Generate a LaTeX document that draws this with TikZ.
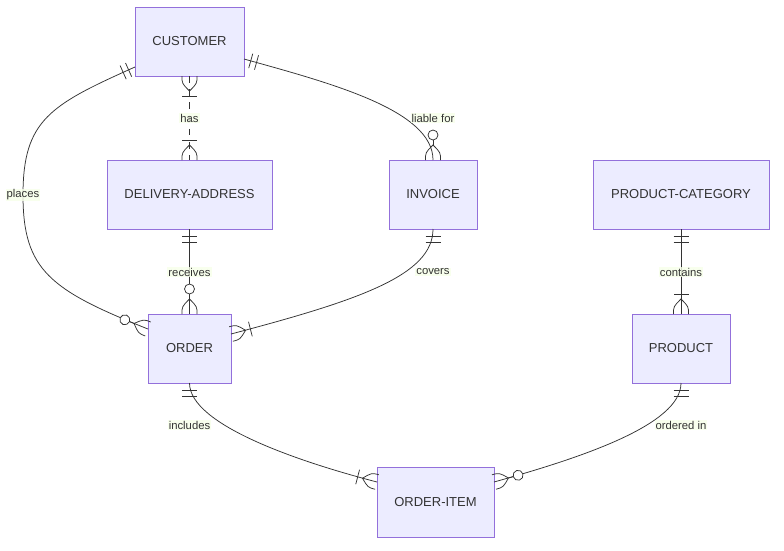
\documentclass[tikz,border=0pt]{standalone}
\usepackage{fontspec}
\setmainfont{Liberation Sans}
\usetikzlibrary{calc}
\definecolor{entfill}{HTML}{ECECFF}
\definecolor{entborder}{HTML}{9370DB}
\definecolor{lnc}{HTML}{333333}
\definecolor{txt}{HTML}{333333}
\definecolor{lblbg}{RGB}{246,255,232}
\tikzset{
  ent/.style={draw=entborder, fill=entfill, line width=0.8pt, minimum width=#1,
    minimum height=69pt, inner sep=0pt, outer sep=0pt, text=txt,
    font=\fontsize{13}{15}\selectfont},
  rel/.style={draw=lnc, line width=0.75pt},
  mk/.style={draw=lnc, line width=0.75pt},
  lbl/.style={fill=lblbg, fill opacity=0.8, text opacity=1, inner sep=1pt,
    text=txt, font=\fontsize{11.3}{13}\selectfont},
  oneone/.pic={\path[mk] (7,-7.5) -- (7,7.5) (13,-7.5) -- (13,7.5);},
  crowmany/.pic={\path[mk] (0,-7.5) .. controls (7.5,-7.5) .. (15,0) .. controls (7.5,7.5) .. (0,7.5);
    \path[mk] (20,-7.5) -- (20,7.5);},
  crowzero/.pic={\path[mk] (0,-7.5) .. controls (7.5,-7.5) .. (15,0) .. controls (7.5,7.5) .. (0,7.5);
    \path[mk] (15,0) -- (20,0);
    \path[mk, fill=white] (25,0) circle (5pt);},
}
\begin{document}
\begin{tikzpicture}[x=1pt, y=1pt]
\useasboundingbox (0,0) rectangle (784,-550);
% entities
\node[ent=109pt] (customer) at (189.5,-41.5) {CUSTOMER};
\node[ent=165pt] (delivery) at (189.5,-194.5) {DELIVERY-ADDRESS};
\node[ent=88pt] (invoice) at (433,-194.5) {INVOICE};
\node[ent=176pt] (prodcat) at (681,-194.5) {PRODUCT-CATEGORY};
\node[ent=83pt] (order) at (189.5,-348.5) {ORDER};
\node[ent=98pt] (product) at (681,-348.5) {PRODUCT};
\node[ent=117pt, minimum height=70pt] (orderitem) at (435.5,-502) {ORDER-ITEM};
% end points
\coordinate (cw) at ([yshift=-25.5pt]customer.west);
\coordinate (ce) at ([yshift=-17.5pt]customer.east);
\coordinate (ow) at ([yshift=19.5pt]order.west);
\coordinate (oe) at ([yshift=14.5pt]order.east);
\coordinate (oiw) at ([yshift=20pt]orderitem.west);
\coordinate (oie) at ([yshift=20pt]orderitem.east);
% relationships
\draw[rel] (cw) .. controls (50,-105) and (23,-120) .. (23,-195)
  .. controls (23,-270) and (50,-290) .. (ow);
\draw[rel, dash pattern=on 6.6pt off 6.6pt] (customer.south) -- (delivery.north);
\draw[rel] (ce) .. controls (330,-83) and (433,-110) .. (invoice.north);
\draw[rel] (delivery.south) -- (order.north);
\draw[rel] (invoice.south) .. controls (433,-275) and (360,-300) .. (oe);
\draw[rel] (order.south) .. controls (189.5,-425) and (300,-462) .. (oiw);
\draw[rel] (prodcat.south) -- (product.north);
\draw[rel] (product.south) .. controls (681,-425) and (580,-458) .. (oie);
% markers
\pic[rotate=204.1] at (cw) {oneone};
\pic[rotate=158.3] at (ow) {crowzero};
\pic[rotate=-90] at (customer.south) {crowmany};
\pic[rotate=90] at (delivery.north) {crowmany};
\pic[rotate=-15.6] at (ce) {oneone};
\pic[rotate=90] at (invoice.north) {crowzero};
\pic[rotate=-90] at (delivery.south) {oneone};
\pic[rotate=90] at (order.north) {crowzero};
\pic[rotate=-90] at (invoice.south) {oneone};
\pic[rotate=14.35] at (oe) {crowmany};
\pic[rotate=-90] at (order.south) {oneone};
\pic[rotate=165.4] at (oiw) {crowmany};
\pic[rotate=-90] at (prodcat.south) {oneone};
\pic[rotate=90] at (product.north) {crowmany};
\pic[rotate=-90] at (product.south) {oneone};
\pic[rotate=15.6] at (oie) {crowzero};
% labels
\node[lbl] (lplaces) at (23,-195) {places};
\node[lbl] (lhas) at (189.5,-118) {has};
\node[lbl] (lliable) at (433,-118) {liable for};
\node[lbl] (lreceives) at (189.5,-272) {receives};
\node[lbl] (lcovers) at (433,-272) {covers};
\node[lbl] (lcontains) at (681,-272) {contains};
\node[lbl] (lincludes) at (189.5,-425) {includes};
\node[lbl] (lordered) at (681,-425) {ordered in};
\end{tikzpicture}
\end{document}
